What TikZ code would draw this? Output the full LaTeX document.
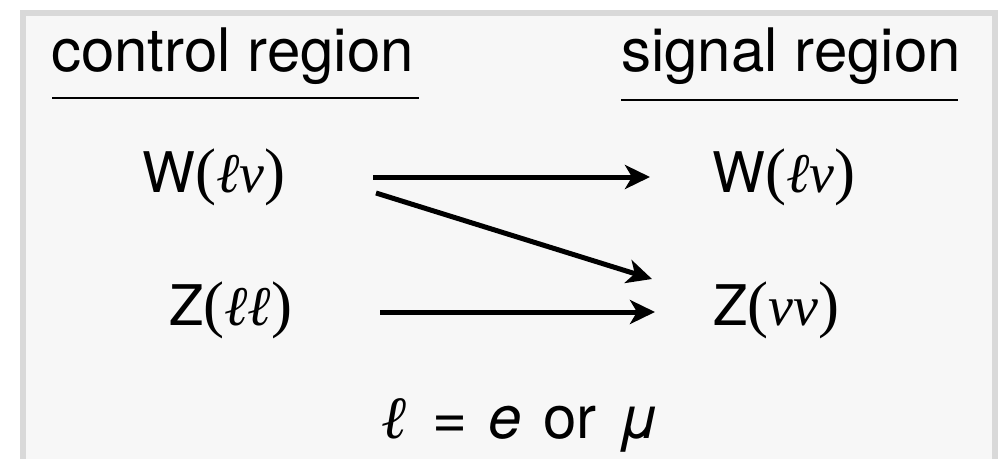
\documentclass[tikz,border=0pt]{standalone}
\usepackage{fontspec}
\setmainfont{TeX Gyre Heros}
\newfontfamily\serifface{Liberation Serif}
\usetikzlibrary{arrows.meta}
\definecolor{framegray}{HTML}{D9D9D9}
\definecolor{panelbg}{HTML}{F7F7F7}
\newcommand{\bigparen}[1]{{\serifface\fontsize{63}{66}\selectfont #1}}
\newcommand{\lepnu}[1]{\bigparen{(}{\serifface\itshape #1}\bigparen{)}}
\begin{document}
\begin{tikzpicture}[x=1pt,y=-1pt,
  lbl/.style={inner sep=0pt, anchor=base west, font=\fontsize{56}{60}\selectfont},
  head/.style={inner sep=0pt, anchor=base west, font=\fontsize{60}{66}\selectfont},
  foot/.style={inner sep=0pt, anchor=base west, font=\fontsize{60}{66}\selectfont},
  arr/.style={line width=5pt, -{Stealth[length=25pt,width=24pt,inset=7pt]}},
  rulestyle/.style={line width=1.2pt}]
\useasboundingbox (0,0) rectangle (1007,458);
\clip (0,0) rectangle (1007,458);
\fill[white] (0,0) rectangle (1007,458);
\draw[framegray, line width=6pt, fill=panelbg] (23,13) rectangle (995,480);
% headings
\node[head] (ctl) at (51,71) {control region};
\node[head] (sig) at (621,71) {signal region};
\coordinate (ctlL) at (52,98);
\coordinate (ctlR) at (419,98);
\coordinate (sigL) at (621,100);
\coordinate (sigR) at (958,100);
\draw[rulestyle] (ctlL) -- (ctlR);
\draw[rulestyle] (sigL) -- (sigR);
% labels
\node[lbl] (Wl) at (142,192) {W\lepnu{ℓν}};
\node[lbl] (Zl) at (169,325) {Z\lepnu{ℓℓ}};
\node[lbl] (Wr) at (712,192) {W\lepnu{ℓν}};
\node[lbl] (Zr) at (713,325) {Z\lepnu{νν}};
% arrow ends
\coordinate (a1) at (373,177);
\coordinate (b1) at (650,177);
\coordinate (a2) at (376,193);
\coordinate (b2) at (652,279);
\coordinate (a3) at (380,312);
\coordinate (b3) at (655,312);
\draw[arr] (a1) -- (b1);
\draw[arr] (a2) -- (b2);
\draw[arr] (a3) -- (b3);
% footnote
\node[foot] (ell) at (382,438) {\serifface\bfseries\itshape ℓ};
\node[foot] (eq) at (432,438) {=};
\node[foot] (ee) at (488,438) {\itshape e};
\node[foot] (or) at (543,438) {or};
\node[foot] (mu) at (618,438) {\itshape μ};
\end{tikzpicture}
\end{document}
